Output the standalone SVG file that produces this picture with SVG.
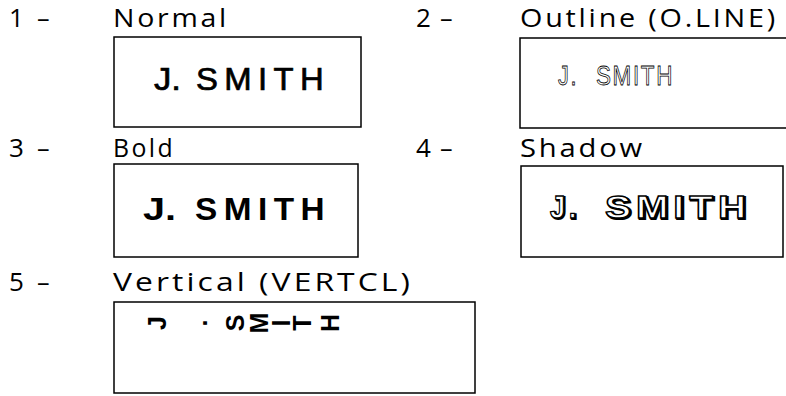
<svg xmlns="http://www.w3.org/2000/svg" width="786" height="396" viewBox="0 0 786 396">
<style>
.lbl{font-family:"Open Sans","Noto Sans",sans-serif;font-size:26px;fill:#000;letter-spacing:2.5px}
.box{fill:none;stroke:#000;stroke-width:1.5}
.nm{font-family:"Liberation Sans",Arial,sans-serif;font-size:31px;fill:#000;letter-spacing:6px}
.jd{letter-spacing:0}
.ol{font-family:"Liberation Sans",Arial,sans-serif;font-size:27px;fill:#fff;stroke:#000;stroke-width:0.8;letter-spacing:2px}
.sh{font-family:"Liberation Sans",Arial,sans-serif;font-size:31px;font-weight:bold;letter-spacing:4px}
.vt{font-family:"Liberation Sans",Arial,sans-serif;font-size:25px;font-weight:bold;fill:#000}
</style>
<rect width="786" height="396" fill="#fff"/>
<g id="n1">
<text class="lbl" x="9" y="27">1</text>
<text class="lbl" x="37" y="27" textLength="15" lengthAdjust="spacingAndGlyphs">–</text>
<text class="lbl" x="113" y="27" textLength="116" lengthAdjust="spacingAndGlyphs">Normal</text>
<rect class="box" x="114" y="37" width="247" height="90"/>
<text class="nm jd" x="154" y="90" textLength="27" lengthAdjust="spacingAndGlyphs" stroke="#000" stroke-width="0.7">J.</text>
<text class="nm" x="196" y="90" textLength="134" lengthAdjust="spacingAndGlyphs" stroke="#000" stroke-width="0.7">SMITH</text>
</g>
<g id="n2">
<text class="lbl" x="416" y="27">2</text>
<text class="lbl" x="440" y="27" textLength="15" lengthAdjust="spacingAndGlyphs">–</text>
<text class="lbl" x="520" y="27" textLength="258" lengthAdjust="spacingAndGlyphs">Outline (O.LINE)</text>
<path class="box" d="M786 38 H520 V128 H786"/>
<text class="ol jd" x="558" y="85" textLength="20" lengthAdjust="spacingAndGlyphs">J.</text>
<text class="ol" x="596" y="85" textLength="78" lengthAdjust="spacingAndGlyphs">SMITH</text>
</g>
<g id="n3">
<text class="lbl" x="9" y="157">3</text>
<text class="lbl" x="37" y="157" textLength="15" lengthAdjust="spacingAndGlyphs">–</text>
<text class="lbl" x="113" y="157" textLength="62" lengthAdjust="spacingAndGlyphs">Bold</text>
<rect class="box" x="114" y="164" width="244" height="93"/>
<text class="nm jd" x="143" y="220" font-weight="bold" textLength="33" lengthAdjust="spacingAndGlyphs">J.</text>
<text class="nm" x="195" y="220" font-weight="bold" textLength="136" lengthAdjust="spacingAndGlyphs">SMITH</text>
</g>
<g id="n4">
<text class="lbl" x="416" y="157">4</text>
<text class="lbl" x="440" y="157" textLength="15" lengthAdjust="spacingAndGlyphs">–</text>
<text class="lbl" x="520" y="157" textLength="125" lengthAdjust="spacingAndGlyphs">Shadow</text>
<rect class="box" x="521" y="166" width="262" height="91"/>
<g fill="#000" stroke="#000" stroke-width="2">
<text class="sh jd" x="551.3" y="219.3" textLength="30" lengthAdjust="spacingAndGlyphs">J.</text>
<text class="sh" x="606.3" y="219.3" textLength="146" lengthAdjust="spacingAndGlyphs">SMITH</text>
</g>
<g fill="#fff" stroke="#000" stroke-width="1.3">
<text class="sh jd" x="550" y="218" textLength="30" lengthAdjust="spacingAndGlyphs">J.</text>
<text class="sh" x="605" y="218" textLength="146" lengthAdjust="spacingAndGlyphs">SMITH</text>
</g>
</g>
<g id="n5">
<text class="lbl" x="9" y="291">5</text>
<text class="lbl" x="37" y="291" textLength="15" lengthAdjust="spacingAndGlyphs">–</text>
<text class="lbl" x="113" y="291" textLength="300" lengthAdjust="spacingAndGlyphs">Vertical (VERTCL)</text>
<rect class="box" x="114" y="302" width="361" height="91"/>
<g class="vt" text-anchor="middle">
<text transform="translate(157,323) rotate(-90)" y="9">J</text>
<text transform="translate(198,323) rotate(-90)" y="9">.</text>
<text transform="translate(235,323) rotate(-90)" y="9">S</text>
<text transform="translate(259,323) rotate(-90)" y="9">M</text>
<text transform="translate(281,323) rotate(-90)" y="9">I</text>
<text transform="translate(302,323) rotate(-90)" y="9">T</text>
<text transform="translate(330,323) rotate(-90)" y="9">H</text>
</g>
</g>
<g id="connectors"/>
</svg>
